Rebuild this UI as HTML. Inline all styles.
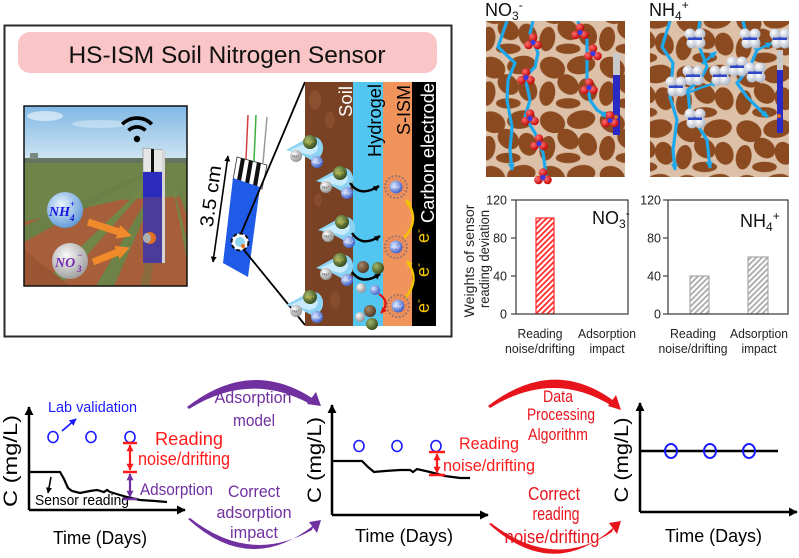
<!DOCTYPE html>
<html><head><meta charset="utf-8"><style>
html,body{margin:0;padding:0;background:#fff;}
svg{display:block;font-family:"Liberation Sans",Arial,sans-serif;}
</style></head><body>
<svg width="799" height="558" viewBox="0 0 799 558" xmlns="http://www.w3.org/2000/svg">
<defs>
 <pattern id="peb" width="46" height="42" patternUnits="userSpaceOnUse" patternTransform="scale(1.3)">
  <ellipse cx="11" cy="10" rx="10" ry="8" transform="rotate(25 11 10)" fill="#8b4a1f"/>
  <ellipse cx="33" cy="8" rx="11" ry="7" transform="rotate(-10 33 8)" fill="#8b4a1f"/>
  <ellipse cx="23" cy="23" rx="9" ry="7" transform="rotate(40 23 23)" fill="#8b4a1f"/>
  <ellipse cx="7" cy="30" rx="6" ry="9.5" transform="rotate(10 7 30)" fill="#8b4a1f"/>
  <ellipse cx="38" cy="27" rx="7" ry="9" transform="rotate(-20 38 27)" fill="#8b4a1f"/>
  <ellipse cx="23" cy="37.5" rx="9.5" ry="4" fill="#8b4a1f"/>
 </pattern>
 <pattern id="peb2" width="46" height="42" patternUnits="userSpaceOnUse" patternTransform="translate(17 9) scale(1.3)">
  <ellipse cx="11" cy="10" rx="10" ry="8" transform="rotate(25 11 10)" fill="#8b4a1f"/>
  <ellipse cx="33" cy="8" rx="11" ry="7" transform="rotate(-10 33 8)" fill="#8b4a1f"/>
  <ellipse cx="23" cy="23" rx="9" ry="7" transform="rotate(40 23 23)" fill="#8b4a1f"/>
  <ellipse cx="7" cy="30" rx="6" ry="9.5" transform="rotate(10 7 30)" fill="#8b4a1f"/>
  <ellipse cx="38" cy="27" rx="7" ry="9" transform="rotate(-20 38 27)" fill="#8b4a1f"/>
  <ellipse cx="23" cy="37.5" rx="9.5" ry="4" fill="#8b4a1f"/>
 </pattern>
 <pattern id="hr" width="4" height="4" patternUnits="userSpaceOnUse" patternTransform="rotate(45)">
  <rect width="4" height="4" fill="#fff"/><rect width="1.8" height="4" fill="#ff2a2a"/>
 </pattern>
 <pattern id="hg" width="4" height="4" patternUnits="userSpaceOnUse" patternTransform="rotate(45)">
  <rect width="4" height="4" fill="#fff"/><rect width="1.8" height="4" fill="#a9a9a9"/>
 </pattern>
 <linearGradient id="sky" x1="0" y1="0" x2="0" y2="1">
  <stop offset="0" stop-color="#80b8e6"/><stop offset="1" stop-color="#d6e8f2"/>
 </linearGradient>
 <radialGradient id="gNH" cx=".4" cy=".35" r=".7"><stop offset="0" stop-color="#eaf4ff"/><stop offset="1" stop-color="#5a96d6"/></radialGradient>
 <radialGradient id="gNO" cx=".4" cy=".35" r=".7"><stop offset="0" stop-color="#fafafa"/><stop offset="1" stop-color="#9a9a9a"/></radialGradient>
 <radialGradient id="gRed" cx=".35" cy=".35" r=".7"><stop offset="0" stop-color="#ff7070"/><stop offset="1" stop-color="#c00000"/></radialGradient>
 <radialGradient id="gWh" cx=".35" cy=".35" r=".7"><stop offset="0" stop-color="#ffffff"/><stop offset="1" stop-color="#a9b2c4"/></radialGradient>
 <radialGradient id="gBl" cx=".35" cy=".35" r=".7"><stop offset="0" stop-color="#d5e3ff"/><stop offset="1" stop-color="#3b5cc6"/></radialGradient>
 <radialGradient id="gGr" cx=".35" cy=".35" r=".7"><stop offset="0" stop-color="#a5b86a"/><stop offset="1" stop-color="#34491b"/></radialGradient>
 <radialGradient id="gGy" cx=".35" cy=".35" r=".7"><stop offset="0" stop-color="#ffffff"/><stop offset="1" stop-color="#8e8e8e"/></radialGradient>
 <radialGradient id="gBr" cx=".35" cy=".35" r=".7"><stop offset="0" stop-color="#a88a6a"/><stop offset="1" stop-color="#4e3420"/></radialGradient>
 <marker id="mK" viewBox="0 0 10 10" refX="9" refY="5" markerWidth="9" markerHeight="9" orient="auto-start-reverse" markerUnits="userSpaceOnUse"><path d="M0,0 L10,5 L0,10 z" fill="#000"/></marker>
 <marker id="mKs" viewBox="0 0 10 10" refX="9" refY="5" markerWidth="6" markerHeight="6" orient="auto-start-reverse" markerUnits="userSpaceOnUse"><path d="M0,0 L10,5 L0,10 z" fill="#000"/></marker>
 <marker id="mR" viewBox="0 0 10 10" refX="9" refY="5" markerWidth="7" markerHeight="7" orient="auto-start-reverse" markerUnits="userSpaceOnUse"><path d="M0,0 L10,5 L0,10 z" fill="#ff1a1a"/></marker>
 <marker id="mP" viewBox="0 0 10 10" refX="9" refY="5" markerWidth="7" markerHeight="7" orient="auto-start-reverse" markerUnits="userSpaceOnUse"><path d="M0,0 L10,5 L0,10 z" fill="#7030a0"/></marker>
 <marker id="mB" viewBox="0 0 10 10" refX="9" refY="5" markerWidth="7" markerHeight="7" orient="auto-start-reverse" markerUnits="userSpaceOnUse"><path d="M0,0 L10,5 L0,10 z" fill="#1a1aff"/></marker>
 <marker id="mC" viewBox="0 0 10 10" refX="9" refY="5" markerWidth="7" markerHeight="7" orient="auto-start-reverse" markerUnits="userSpaceOnUse"><path d="M0,0 L10,5 L0,10 z" fill="#1ea8ec"/></marker>
 <marker id="mY" viewBox="0 0 10 10" refX="9" refY="5" markerWidth="6" markerHeight="6" orient="auto-start-reverse" markerUnits="userSpaceOnUse"><path d="M0,0 L10,5 L0,10 z" fill="#f5c400"/></marker>
 <marker id="mRd" viewBox="0 0 10 10" refX="9" refY="5" markerWidth="6" markerHeight="6" orient="auto-start-reverse" markerUnits="userSpaceOnUse"><path d="M0,0 L10,5 L0,10 z" fill="#e01010"/></marker>
 <g id="no3">
  <circle cx="0" cy="-4.5" r="4.3" fill="url(#gRed)"/>
  <circle cx="-4.5" cy="3" r="4.3" fill="url(#gRed)"/>
  <circle cx="4.5" cy="3" r="4.3" fill="url(#gRed)"/>
  <circle cx="0" cy="0.5" r="2.6" fill="#3a3ae0"/>
 </g>
 <g id="nh4">
  <circle cx="0" cy="0" r="5" fill="#2a40c0"/>
  <circle cx="-5" cy="-4" r="5.5" fill="url(#gWh)"/>
  <circle cx="5" cy="-4" r="5.5" fill="url(#gWh)"/>
  <circle cx="-3" cy="5" r="5.5" fill="url(#gWh)"/>
  <circle cx="5" cy="5" r="5.5" fill="url(#gWh)"/>
  <rect x="-7" y="-0.5" width="14" height="2.5" fill="#3048c8"/>
 </g>
 <g id="grp">
  <path d="M-24,8 L-4,-3 Q10,-9 13,4 Q14,15 3,19 Q-6,14 -10,12 Z" fill="#8dd3f3"/>
  <path d="M-20,8 L-4,1 Q6,-3 8,6 Q6,12 0,13 Z" fill="#d8f1fc" opacity=".8"/>
  <circle cx="0" cy="0" r="7" fill="url(#gGr)"/>
  <circle cx="-14" cy="14" r="6" fill="url(#gGy)"/>
  <circle cx="7" cy="20" r="6" fill="url(#gBl)"/>
  <text x="0" y="1.5" font-size="4" fill="#e8d040" text-anchor="middle">Mg²⁺</text>
  <text x="-14" y="15.5" font-size="4" fill="#333" text-anchor="middle">Na⁺</text>
  <text x="7" y="21.5" font-size="4" fill="#fff" text-anchor="middle">NH₄⁺</text>
 </g>
 <g id="cplx">
  <circle cx="0" cy="0" r="11" fill="none" stroke="#a8746a" stroke-width="2.2" stroke-dasharray="2 1.6"/>
  <circle cx="0" cy="0" r="8" fill="none" stroke="#d05a40" stroke-width="1" stroke-dasharray="1 2"/>
  <circle cx="0" cy="0" r="6.5" fill="url(#gBl)"/>
  <text x="0" y="1.5" font-size="4" fill="#fff" text-anchor="middle">NH₄⁺</text>
 </g>
 <clipPath id="cpPhoto"><rect x="24" y="106" width="163" height="180"/></clipPath>
 <clipPath id="cpS1"><rect x="486" y="21" width="139" height="156"/></clipPath>
 <clipPath id="cpS2"><rect x="650" y="21" width="139" height="156"/></clipPath>
 <clipPath id="cpPanel"><rect x="305" y="82" width="131" height="244"/></clipPath>
</defs>

<!-- ============ TOP LEFT BOX ============ -->
<rect x="4.5" y="25.5" width="447" height="311" fill="none" stroke="#2a2a2a" stroke-width="2"/>
<rect x="18" y="32" width="419" height="41" rx="12" fill="#f9c5c6"/>
<text x="227" y="63" font-size="24" text-anchor="middle" fill="#111" textLength="317" lengthAdjust="spacingAndGlyphs">HS-ISM Soil Nitrogen Sensor</text>

<!-- photo -->
<g clip-path="url(#cpPhoto)">
 <rect x="24" y="106" width="163" height="58" fill="url(#sky)"/>
 <ellipse cx="45" cy="116" rx="18" ry="5" fill="#fff" opacity=".55"/>
 <ellipse cx="100" cy="124" rx="28" ry="4" fill="#fff" opacity=".35"/>
 <rect x="24" y="162" width="163" height="124" fill="#a65f3a"/>
 <rect x="24" y="158" width="163" height="6" fill="#66745f"/>
 <rect x="30" y="153" width="8" height="6" fill="#7b8a80"/>
 <polygon points="24,163 187,163 187,196 120,200 24,222" fill="#6f8448"/>
 <polygon points="168,163 24,226 24,242" fill="#6a8046"/>
 <polygon points="168,163 40,286 60,286" fill="#728648"/>
 <polygon points="168,163 96,286 114,286" fill="#6c8246"/>
 <polygon points="168,163 187,200 187,216" fill="#6c8246"/>
 <polygon points="168,163 187,242 187,260" fill="#728648"/>
 <polygon points="168,163 140,286 150,286" fill="#8b6a3e"/>
 <polygon points="24,250 70,286 24,286" fill="#9a5533"/>
 <!-- sensor strip -->
 <polygon points="143,148 163,150 163,172 143,172" fill="#e6e6e6" stroke="#888" stroke-width=".6"/>
 <rect x="151" y="149" width="3" height="23" fill="#111"/>
 <rect x="143" y="172" width="19" height="25" fill="#2b2bbd"/>
 <rect x="143" y="197" width="19" height="66" fill="#4b3b9b"/>
 <rect x="162" y="150" width="3" height="113" fill="#d4d4d4"/>
 <circle cx="150" cy="238" r="6" fill="#e07020"/>
 <ellipse cx="147" cy="238" rx="4" ry="5" fill="#b0b0b0"/>
 <!-- wifi -->
 <circle cx="137" cy="139" r="3.2" fill="#000"/>
 <path d="M128.5,130.5 A12,12 0 0 1 145.5,130.5" fill="none" stroke="#000" stroke-width="3.6"/>
 <path d="M122.2,124.2 A21,21 0 0 1 151.8,124.2" fill="none" stroke="#000" stroke-width="3.6"/>
 <!-- orange arrows -->
 <line x1="88" y1="222" x2="119" y2="232" stroke="#f08a2a" stroke-width="7"/>
 <polygon points="132,236 115.8,238.7 120.2,225.3" fill="#f08a2a"/>
 <line x1="93" y1="262" x2="118" y2="252" stroke="#f08a2a" stroke-width="7"/>
 <polygon points="130,247.5 119.5,259 114.5,246" fill="#f08a2a"/>
 <!-- balls -->
 <circle cx="65" cy="210" r="18" fill="url(#gNH)"/>
 <circle cx="70" cy="261" r="18" fill="url(#gNO)"/>
 <text x="49" y="216" font-family="Liberation Serif,serif" font-style="italic" font-weight="bold" font-size="14" fill="#1515e0">NH</text>
 <text x="70" y="207" font-family="Liberation Serif,serif" font-style="italic" font-weight="bold" font-size="9" fill="#1515e0">+</text>
 <text x="70" y="221" font-family="Liberation Serif,serif" font-style="italic" font-weight="bold" font-size="9" fill="#1515e0">4</text>
 <text x="55" y="267" font-family="Liberation Serif,serif" font-style="italic" font-weight="bold" font-size="14" fill="#7a2ab0">NO</text>
 <text x="77" y="258" font-family="Liberation Serif,serif" font-style="italic" font-weight="bold" font-size="9" fill="#7a2ab0">−</text>
 <text x="77" y="272" font-family="Liberation Serif,serif" font-style="italic" font-weight="bold" font-size="9" fill="#7a2ab0">3</text>
</g>
<rect x="24" y="106" width="163" height="180" fill="none" stroke="#111" stroke-width="1.5"/>

<!-- 3.5 cm sensor -->
<line x1="248" y1="115" x2="246" y2="159" stroke="#d04040" stroke-width="1.5"/>
<line x1="256" y1="115" x2="254" y2="161" stroke="#3fae3f" stroke-width="1.5"/>
<line x1="267" y1="117" x2="263" y2="163" stroke="#9a9a9a" stroke-width="1.5"/>
<polygon points="237,157 267,165 262,189 233,180" fill="#fff" stroke="#333" stroke-width=".8"/>
<polygon points="241,158 245,159 241,181 237,180" fill="#111"/>
<polygon points="249,160 253,161 249,184 245,183" fill="#111"/>
<polygon points="257,162 261,163 257,187 253,185" fill="#111"/>
<polygon points="233,178 260,187 248,277 223,263" fill="#1f5be6"/>
<line x1="228" y1="156" x2="213" y2="262" stroke="#000" stroke-width="1.6" marker-start="url(#mKs)" marker-end="url(#mKs)"/>
<text transform="translate(217,197) rotate(-82)" font-size="19" text-anchor="middle" fill="#000" textLength="62" lengthAdjust="spacingAndGlyphs">3.5 cm</text>
<line x1="240" y1="236" x2="305" y2="82" stroke="#000" stroke-width="1.8"/>
<line x1="244" y1="250" x2="305" y2="325" stroke="#000" stroke-width="1.8"/>
<circle cx="240" cy="242" r="8.5" fill="#fff" stroke="#111" stroke-width="2" stroke-dasharray="4 2.5"/>
<circle cx="240" cy="242" r="5" fill="#8fd6f0"/>
<circle cx="243" cy="246" r="2" fill="#e07020"/>

<!-- layered panel -->
<g clip-path="url(#cpPanel)">
 <rect x="305" y="82" width="48" height="244" fill="#7a4224"/>
 <ellipse cx="315" cy="100" rx="6" ry="10" fill="#8e5432" opacity=".8"/>
 <ellipse cx="330" cy="120" rx="5" ry="8" fill="#8e5432" opacity=".7"/>
 <ellipse cx="318" cy="200" rx="4" ry="7" fill="#8e5432" opacity=".6"/>
 <ellipse cx="335" cy="300" rx="5" ry="9" fill="#8e5432" opacity=".6"/>
 <rect x="353" y="82" width="30" height="244" fill="#52c5f1"/>
 <rect x="383" y="82" width="29" height="244" fill="#f0945c"/>
 <rect x="412" y="82" width="24" height="244" fill="#000"/>
</g>
<text transform="translate(352,117) rotate(-90)" font-size="18" fill="#fff" textLength="31" lengthAdjust="spacingAndGlyphs">Soil</text>
<text transform="translate(381,157) rotate(-90)" font-size="18" fill="#000" textLength="73" lengthAdjust="spacingAndGlyphs">Hydrogel</text>
<text transform="translate(410,135) rotate(-90)" font-size="18" fill="#000" textLength="50" lengthAdjust="spacingAndGlyphs">S-ISM</text>
<text transform="translate(434,223) rotate(-90)" font-size="18" fill="#fff" textLength="140" lengthAdjust="spacingAndGlyphs">Carbon electrode</text>
<text transform="translate(429,243) rotate(-90)" font-size="18" fill="#f5c400">e<tspan font-size="12" dy="-7">-</tspan></text>
<text transform="translate(429,277) rotate(-90)" font-size="18" fill="#f5c400">e<tspan font-size="12" dy="-7">-</tspan></text>
<text transform="translate(429,313) rotate(-90)" font-size="18" fill="#f5c400">e<tspan font-size="12" dy="-7">-</tspan></text>
<path d="M404,238 Q421,220 406,200" fill="none" stroke="#f5c400" stroke-width="2.4" marker-end="url(#mY)"/>
<path d="M405,298 Q421,280 407,261" fill="none" stroke="#f5c400" stroke-width="2.4" marker-end="url(#mY)"/>
<use href="#cplx" x="396" y="187"/>
<use href="#cplx" x="396" y="247"/>
<use href="#cplx" x="398" y="306"/>
<use href="#grp" x="310" y="142"/>
<use href="#grp" x="340" y="173"/>
<use href="#grp" x="342" y="222"/>
<use href="#grp" x="340" y="260"/>
<use href="#grp" x="310" y="297"/>
<path d="M350,183 Q360,198 379,186" fill="none" stroke="#000" stroke-width="2.4" marker-end="url(#mKs)"/>
<path d="M352,233 Q362,248 380,236" fill="none" stroke="#000" stroke-width="2.4" marker-end="url(#mKs)"/>
<path d="M352,272 Q362,286 380,274" fill="none" stroke="#000" stroke-width="2.4" marker-end="url(#mKs)"/>
<circle cx="363" cy="267" r="6" fill="url(#gBr)"/>
<circle cx="378" cy="268" r="6" fill="url(#gGr)"/>
<circle cx="361" cy="288" r="5" fill="url(#gGy)"/>
<circle cx="375" cy="290" r="5" fill="url(#gBl)"/>
<path d="M379,294 Q391,302 381,313" fill="none" stroke="#e01010" stroke-width="2.2" marker-end="url(#mRd)"/>
<circle cx="360" cy="317" r="5" fill="url(#gGy)"/>
<circle cx="370" cy="311" r="6" fill="url(#gBr)"/>
<circle cx="372" cy="324" r="6" fill="url(#gGr)"/>

<!-- ============ TOP RIGHT SOIL IMAGES ============ -->
<text x="485" y="16" font-size="18" fill="#111">NO<tspan font-size="12" dy="4">3</tspan><tspan font-size="12" dy="-11">-</tspan></text>
<text x="649" y="16" font-size="18" fill="#111">NH<tspan font-size="12" dy="4">4</tspan><tspan font-size="12" dy="-11">+</tspan></text>
<g clip-path="url(#cpS1)">
 <rect x="486" y="21" width="139" height="156" fill="#dcc0a7"/>
 <rect x="486" y="21" width="139" height="156" fill="url(#peb)"/>
 <polyline points="507,21 498,47 515,63 508,80 507,100 512,127 510,150 512,170" fill="none" stroke="#1ea8ec" stroke-width="3.2" marker-end="url(#mC)"/>
 <polyline points="533,21 530,33 538,53 535,67 525,77 530,100 525,117 535,133 543,153 545,167 546,177" fill="none" stroke="#1ea8ec" stroke-width="3.2"/>
 <polyline points="578,21 580,30 587,40 587,67 587,83 590,100 597,110 608,117" fill="none" stroke="#1ea8ec" stroke-width="3.2" marker-end="url(#mC)"/>
 <rect x="613" y="53" width="7" height="22" fill="#c9c9c9"/>
 <rect x="613" y="75" width="7" height="60" fill="#2a2ac4"/>
 <circle cx="616" cy="117" r="2" fill="#e07020"/>
 <use href="#no3" x="533" y="42"/>
 <use href="#no3" x="580" y="32"/>
 <use href="#no3" x="593" y="53"/>
 <use href="#no3" x="526" y="77"/>
 <use href="#no3" x="589" y="87"/>
 <use href="#no3" x="530" y="118"/>
 <use href="#no3" x="539" y="143"/>
 <use href="#no3" x="610" y="120"/>
</g>
<use href="#no3" x="543" y="177"/>
<g clip-path="url(#cpS2)">
 <rect x="650" y="21" width="139" height="156" fill="#dcc0a7"/>
 <rect x="650" y="21" width="139" height="156" fill="url(#peb2)"/>
 <polyline points="670,21 662,47 673,63 670,97 677,120 673,150 675,170" fill="none" stroke="#1ea8ec" stroke-width="3.2" marker-end="url(#mC)"/>
 <polyline points="700,21 697,40 707,67 700,80 688,90 690,113 707,140 710,168" fill="none" stroke="#1ea8ec" stroke-width="3.2" marker-end="url(#mC)"/>
 <polyline points="743,21 747,37 757,50 750,67 737,83 747,97 763,113 768,117" fill="none" stroke="#1ea8ec" stroke-width="3.2" marker-end="url(#mC)"/>
 <polyline points="702,64 716,52" fill="none" stroke="#1ea8ec" stroke-width="2.5" marker-end="url(#mC)"/>
 <polyline points="757,50 772,43" fill="none" stroke="#1ea8ec" stroke-width="2.5" marker-end="url(#mC)"/>
 <polyline points="690,92 700,88 718,82" fill="none" stroke="#1ea8ec" stroke-width="2.5" marker-end="url(#mC)"/>
 <polyline points="690,95 678,90" fill="none" stroke="#1ea8ec" stroke-width="2.5" marker-end="url(#mC)"/>
 <rect x="777" y="50" width="6" height="20" fill="#c9c9c9"/>
 <rect x="777" y="70" width="6" height="63" fill="#2a2ac4"/>
 <circle cx="779" cy="116" r="2" fill="#e07020"/>
 <use href="#nh4" x="695" y="38"/>
 <use href="#nh4" x="750" y="38"/>
 <use href="#nh4" x="780" y="38"/>
 <use href="#nh4" x="693" y="75"/>
 <use href="#nh4" x="676" y="86"/>
 <use href="#nh4" x="720" y="75"/>
 <use href="#nh4" x="737" y="66"/>
 <use href="#nh4" x="755" y="72"/>
 <use href="#nh4" x="695" y="118"/>
</g>

<!-- ============ BAR CHARTS ============ -->
<g font-size="12.5" fill="#222" text-anchor="end">
 <text x="507" y="204.5">120</text><text x="507" y="242.5">80</text><text x="507" y="280.5">40</text><text x="507" y="318.5">0</text>
 <text x="661" y="204.5">120</text><text x="661" y="242.5">80</text><text x="661" y="280.5">40</text><text x="661" y="318.5">0</text>
</g>
<g stroke="#444" stroke-width="1.2">
 <line x1="511" y1="200" x2="516" y2="200"/><line x1="511" y1="238" x2="516" y2="238"/><line x1="511" y1="276" x2="516" y2="276"/><line x1="511" y1="314" x2="516" y2="314"/>
 <line x1="663" y1="200" x2="668" y2="200"/><line x1="663" y1="238" x2="668" y2="238"/><line x1="663" y1="276" x2="668" y2="276"/><line x1="663" y1="314" x2="668" y2="314"/>
</g>
<rect x="536" y="218" width="18" height="96" fill="url(#hr)" stroke="#ff2a2a" stroke-width="1.2"/>
<rect x="690" y="276" width="19" height="38" fill="url(#hg)" stroke="#a9a9a9" stroke-width="1.2"/>
<rect x="748" y="257" width="20" height="57" fill="url(#hg)" stroke="#a9a9a9" stroke-width="1.2"/>
<rect x="516" y="200" width="112" height="114" fill="none" stroke="#444" stroke-width="1.3"/>
<rect x="668" y="200" width="120" height="114" fill="none" stroke="#444" stroke-width="1.3"/>
<text x="592" y="224" font-size="18" fill="#111">NO<tspan font-size="12" dy="4">3</tspan><tspan font-size="12" dy="-11">-</tspan></text>
<text x="740" y="227" font-size="18" fill="#111">NH<tspan font-size="12" dy="4">4</tspan><tspan font-size="12" dy="-11">+</tspan></text>
<text transform="translate(474,261) rotate(-90)" font-size="13.5" text-anchor="middle" fill="#222" textLength="113" lengthAdjust="spacingAndGlyphs">Weights of sensor</text>
<text transform="translate(489,259) rotate(-90)" font-size="13.5" text-anchor="middle" fill="#222" textLength="98" lengthAdjust="spacingAndGlyphs">reading deviation</text>
<g font-size="13" fill="#222" text-anchor="middle">
 <text x="540" y="338" textLength="45" lengthAdjust="spacingAndGlyphs">Reading</text>
 <text x="540" y="353" textLength="70" lengthAdjust="spacingAndGlyphs">noise/drifting</text>
 <text x="607" y="338" textLength="58" lengthAdjust="spacingAndGlyphs">Adsorption</text>
 <text x="607" y="353" textLength="35" lengthAdjust="spacingAndGlyphs">impact</text>
 <text x="693" y="338" textLength="46" lengthAdjust="spacingAndGlyphs">Reading</text>
 <text x="693" y="353" textLength="69" lengthAdjust="spacingAndGlyphs">noise/drifting</text>
 <text x="759" y="338" textLength="58" lengthAdjust="spacingAndGlyphs">Adsorption</text>
 <text x="759" y="353" textLength="35" lengthAdjust="spacingAndGlyphs">impact</text>
</g>

<!-- ============ BOTTOM: CHART A ============ -->
<path d="M29,510 L29,407" stroke="#000" stroke-width="2.5" marker-end="url(#mK)"/>
<path d="M29,510 L185,510" stroke="#000" stroke-width="2.5" marker-end="url(#mK)"/>
<text transform="translate(17,461) rotate(-90)" font-size="19" text-anchor="middle" textLength="92" lengthAdjust="spacingAndGlyphs">C (mg/L)</text>
<text x="53" y="544" font-size="18" textLength="94" lengthAdjust="spacingAndGlyphs">Time (Days)</text>
<text x="48" y="412" font-size="15" fill="#1a1aff" textLength="89" lengthAdjust="spacingAndGlyphs">Lab validation</text>
<line x1="62" y1="431" x2="76" y2="419" stroke="#1a1aff" stroke-width="1.8" marker-end="url(#mB)"/>
<g fill="none" stroke="#1a1aff" stroke-width="1.6">
 <ellipse cx="53" cy="437" rx="5" ry="5.5"/><ellipse cx="91" cy="437" rx="5" ry="5.5"/><ellipse cx="130" cy="437" rx="5" ry="5.5"/>
</g>
<polyline points="29,472 60,472 64,479 68,488 72,491 80,493 90,491 97,490 104,492 107,490 110,492 120,495 127,497 140,500 155,501 167,502" fill="none" stroke="#000" stroke-width="2.2"/>
<line x1="51" y1="477" x2="48" y2="493" stroke="#000" stroke-width="1.6" marker-end="url(#mKs)"/>
<text x="35" y="505" font-size="15" textLength="94" lengthAdjust="spacingAndGlyphs">Sensor reading</text>
<line x1="130" y1="445" x2="130" y2="470" stroke="#ff1a1a" stroke-width="2.2" marker-start="url(#mR)" marker-end="url(#mR)"/>
<line x1="123" y1="443" x2="137" y2="443" stroke="#ff1a1a" stroke-width="2.5"/>
<line x1="123" y1="472" x2="137" y2="472" stroke="#ff1a1a" stroke-width="2.5"/>
<line x1="130" y1="474" x2="130" y2="497" stroke="#7030a0" stroke-width="2.2" marker-start="url(#mP)" marker-end="url(#mP)"/>
<line x1="123" y1="499" x2="137" y2="499" stroke="#7030a0" stroke-width="2.5"/>
<text x="189" y="445" font-size="18" fill="#ff1a1a" text-anchor="middle" textLength="68" lengthAdjust="spacingAndGlyphs">Reading</text>
<text x="184" y="465" font-size="18" fill="#ff1a1a" text-anchor="middle" textLength="92" lengthAdjust="spacingAndGlyphs">noise/drifting</text>
<text x="140" y="495" font-size="17" fill="#7030a0" textLength="73" lengthAdjust="spacingAndGlyphs">Adsorption</text>

<!-- purple arcs -->
<path d="M187,407 Q250,358 312,398 L310,404 Q250,371 189,409 Z" fill="#7030a0"/>
<polygon points="321,406 307,404 316,392" fill="#7030a0"/>
<path d="M188,519 Q250,576 314,525 L312,530 Q250,565 190,518 Z" fill="#7030a0"/>
<polygon points="321,520 317,533 309,522" fill="#7030a0"/>
<g fill="#7030a0" font-size="17" text-anchor="middle">
 <text x="253" y="403" textLength="77" lengthAdjust="spacingAndGlyphs">Adsorption</text>
 <text x="254" y="426" textLength="42" lengthAdjust="spacingAndGlyphs">model</text>
 <text x="254" y="497" textLength="52" lengthAdjust="spacingAndGlyphs">Correct</text>
 <text x="254" y="518" textLength="75" lengthAdjust="spacingAndGlyphs">adsorption</text>
 <text x="254" y="538" textLength="48" lengthAdjust="spacingAndGlyphs">impact</text>
</g>

<!-- ============ CHART B ============ -->
<path d="M332,515 L332,405" stroke="#000" stroke-width="2.5" marker-end="url(#mK)"/>
<path d="M332,515 L488,515" stroke="#000" stroke-width="2.5" marker-end="url(#mK)"/>
<text transform="translate(321,460) rotate(-90)" font-size="19" text-anchor="middle" textLength="86" lengthAdjust="spacingAndGlyphs">C (mg/L)</text>
<text x="355" y="542" font-size="18" textLength="98" lengthAdjust="spacingAndGlyphs">Time (Days)</text>
<g fill="none" stroke="#1a1aff" stroke-width="1.6">
 <ellipse cx="359" cy="446" rx="5" ry="5.5"/><ellipse cx="397" cy="446" rx="5" ry="5.5"/><ellipse cx="436" cy="446" rx="5" ry="5.5"/>
</g>
<polyline points="332,461 362,461 368,467 374,472 385,471 400,470 410,470 413,472 417,469 430,472 445,476 460,478 470,478" fill="none" stroke="#000" stroke-width="2.2"/>
<line x1="437" y1="454" x2="437" y2="473" stroke="#ff1a1a" stroke-width="2.2" marker-start="url(#mR)" marker-end="url(#mR)"/>
<line x1="429" y1="452" x2="445" y2="452" stroke="#ff1a1a" stroke-width="2.5"/>
<line x1="429" y1="475" x2="445" y2="475" stroke="#ff1a1a" stroke-width="2.5"/>
<text x="489" y="449" font-size="17" fill="#ff1a1a" text-anchor="middle" textLength="60" lengthAdjust="spacingAndGlyphs">Reading</text>
<text x="489" y="471" font-size="17" fill="#ff1a1a" text-anchor="middle" textLength="92" lengthAdjust="spacingAndGlyphs">noise/drifting</text>

<!-- red arcs -->
<path d="M488,406 Q553,356 614,401 L612,406 Q553,369 490,408 Z" fill="#e8141c"/>
<polygon points="621,410 608,406 616,395" fill="#e8141c"/>
<path d="M489,524 Q553,582 614,527 L612,532 Q553,571 491,523 Z" fill="#e8141c"/>
<polygon points="621,521 617,534 609,523" fill="#e8141c"/>
<g fill="#e8141c" text-anchor="middle">
 <text x="558" y="402" font-size="17" textLength="30" lengthAdjust="spacingAndGlyphs">Data</text>
 <text x="561" y="420" font-size="17" textLength="68" lengthAdjust="spacingAndGlyphs">Processing</text>
 <text x="558" y="440" font-size="17" textLength="60" lengthAdjust="spacingAndGlyphs">Algorithm</text>
 <text x="554" y="500" font-size="18" textLength="52" lengthAdjust="spacingAndGlyphs">Correct</text>
 <text x="556" y="520" font-size="18" textLength="47" lengthAdjust="spacingAndGlyphs">reading</text>
 <text x="552" y="543" font-size="18" textLength="95" lengthAdjust="spacingAndGlyphs">noise/drifting</text>
</g>

<!-- ============ CHART C ============ -->
<path d="M640,512 L640,403" stroke="#000" stroke-width="2.5" marker-end="url(#mK)"/>
<path d="M640,512 L797,512" stroke="#000" stroke-width="2.5" marker-end="url(#mK)"/>
<line x1="640" y1="451" x2="778" y2="451" stroke="#000" stroke-width="2.5"/>
<g fill="none" stroke="#1a1aff" stroke-width="2">
 <ellipse cx="671" cy="451" rx="6" ry="7"/><ellipse cx="710" cy="451" rx="6" ry="7"/><ellipse cx="749" cy="451" rx="6" ry="7"/>
</g>
<text transform="translate(628,460) rotate(-90)" font-size="19" text-anchor="middle" textLength="85" lengthAdjust="spacingAndGlyphs">C (mg/L)</text>
<text x="665" y="542" font-size="18" textLength="97" lengthAdjust="spacingAndGlyphs">Time (Days)</text>
</svg>
</body></html>
